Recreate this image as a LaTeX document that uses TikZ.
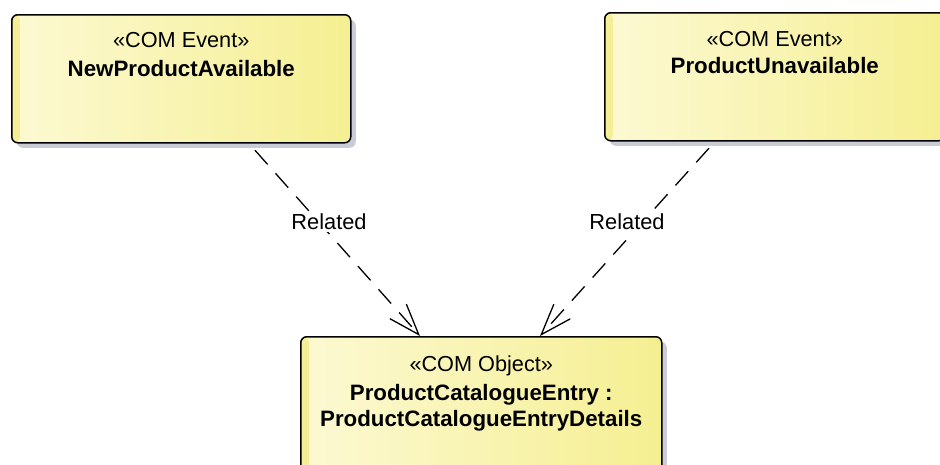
\documentclass[tikz,border=0pt]{standalone}
\usepackage{fontspec}
\setmainfont{Liberation Sans}
\usetikzlibrary{shadows,arrows.meta,calc}
\definecolor{boxleft}{HTML}{FCF9D3}
\definecolor{boxright}{HTML}{F5EF92}
\definecolor{boxstrip}{HTML}{F6EE96}
\definecolor{shadowgrey}{HTML}{C9CCD5}
\tikzset{
  classbox/.style={draw=black, line width=1.5pt, rounded corners=6pt,
    left color=boxleft, right color=boxright,
    drop shadow={shadow xshift=5pt, shadow yshift=-5pt, fill=shadowgrey, opacity=1},
    path picture={\fill[boxstrip] (path picture bounding box.north west)
      rectangle ([xshift=8pt]path picture bounding box.south west);},
    inner sep=0pt, anchor=north west},
  stereo/.style={font=\fontsize{21.7}{26}\selectfont, anchor=base, inner sep=0pt},
  title/.style={font=\fontsize{22.3}{26}\selectfont\bfseries, anchor=base, inner sep=0pt},
  rel/.style={draw=black, line width=1.3pt, dash pattern=on 19pt off 12pt, dash phase=22pt,
    -{Straight Barb[length=31pt,width=22pt,line width=1.3pt]}},
  rellabel/.style={font=\fontsize{21.8}{26}\selectfont, fill=white, inner sep=2pt}
}
\begin{document}
\begin{tikzpicture}[x=1pt,y=-1pt]
  \useasboundingbox (0,0) rectangle (940,464);
  \clip (0,0) rectangle (940,464);

  % event and object boxes
  \node[classbox, minimum width=339pt, minimum height=128pt] (a) at (11,14) {};
  \node[stereo] (as) at ($(a.north)+(0,33)$) {«COM Event»};
  \node[title]  (an) at ($(a.north)+(0,62)$) {NewProductAvailable};

  \node[classbox, minimum width=340pt, minimum height=128pt] (b) at (604,12) {};
  \node[stereo] (bs) at ($(b.north)+(0,34)$) {«COM Event»};
  \node[title]  (bn) at ($(b.north)+(0,61.5)$) {ProductUnavailable};

  \node[classbox, minimum width=361pt, minimum height=140pt] (c) at (300,336) {};
  \node[stereo] (cs) at ($(c.north)+(0,35)$) {«COM Object»};
  \node[title]  (cn1) at ($(c.north)+(0,64)$) {ProductCatalogueEntry :};
  \node[title]  (cn2) at ($(c.north)+(0,90.5)$) {ProductCatalogueEntryDetails};

  % dependencies
  \draw[rel] ($(a.south west)+(238,0)$) -- ($(c.north west)+(120,0)$);
  \draw[rel] ($(b.south west)+(111,0)$) -- ($(c.north west)+(240,0)$);
  \node[rellabel] (l1) at (329,222) {Related};
  \node[rellabel] (l2) at (627,222) {Related};
\end{tikzpicture}
\end{document}
